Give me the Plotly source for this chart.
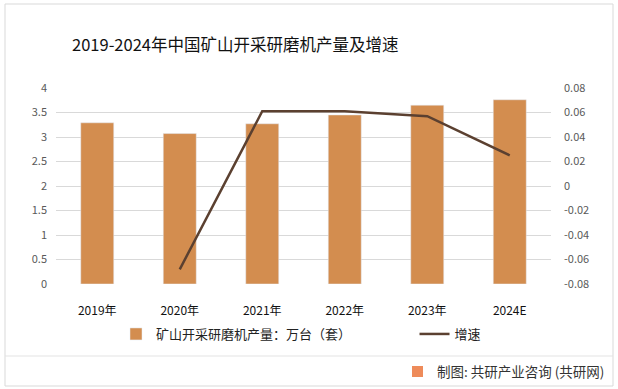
import plotly.graph_objects as go

categories = ["2019年", "2020年", "2021年", "2022年", "2023年", "2024E"]
production = [3.29, 3.07, 3.27, 3.45, 3.65, 3.76]
growth = [None, -0.068, 0.061, 0.061, 0.057, 0.025]
left_ticks = [0, 0.5, 1, 1.5, 2, 2.5, 3, 3.5, 4]
right_ticks = [-0.08, -0.06, -0.04, -0.02, 0, 0.02, 0.04, 0.06, 0.08]
right_labels = ["-0.08", "-0.06", "-0.04", "-0.02", "0", "0.02", "0.04", "0.06", "0.08"]
series_names = ["矿山开采研磨机产量：万台（套）", "增速"]

FONT = "Noto Sans CJK SC"
W, H = 618, 389
L, R, T, B = 56, 551, 88, 284


def px(x):
    return (x - L) / (R - L)


def py(y):
    return (B - y) / (B - T)


fig = go.Figure()
fig.add_trace(go.Bar(
    x=categories, y=production, name=series_names[0] + "\u3000" * 5,
    marker=dict(color="#D38D4F"), width=0.4, yaxis="y"))
fig.add_trace(go.Scatter(
    x=categories, y=growth, name=series_names[1], mode="lines",
    line=dict(color="#5B4030", width=2.5), yaxis="y2", connectgaps=False))

fig.update_layout(
    width=W, height=H,
    margin=dict(l=L, r=W - R, t=T, b=H - B, autoexpand=False),
    paper_bgcolor="white", plot_bgcolor="white",
    font=dict(family=FONT, color="#595959", size=11),
    showlegend=True,
    legend=dict(orientation="h", x=px(116), xanchor="left", y=py(334), yanchor="middle",
                font=dict(size=13, color="#222222"), traceorder="normal",
                itemwidth=30),
    title=dict(text="2019-2024年中国矿山开采研磨机产量及增速", x=72 / W, xanchor="left",
               y=1 - 45 / H, yanchor="middle",
               font=dict(size=16.5, color="#111111", family=FONT)),
    xaxis=dict(tickfont=dict(size=12, color="#111111"), showgrid=False,
               showline=False, ticks="", ticklabelstandoff=18, automargin=False),
    yaxis=dict(range=[0, 4], tickvals=left_ticks, showgrid=True, gridcolor="#D9D9D9",
               gridwidth=1, zeroline=False, showline=False, ticks="",
               tickfont=dict(size=11, color="#595959"), ticklabelstandoff=8,
               automargin=False),
    yaxis2=dict(range=[-0.08, 0.08], tickvals=right_ticks, ticktext=right_labels,
                overlaying="y", side="right",
                showgrid=False, zeroline=False, showline=False, ticks="",
                tickfont=dict(size=11, color="#595959"), ticklabelstandoff=12,
                automargin=False),
)

# outer frame and footer divider
fig.add_shape(type="rect", xref="paper", yref="paper",
              x0=px(5), x1=px(613), y0=py(386), y1=py(4),
              line=dict(color="#D9D9D9", width=1))
fig.add_shape(type="line", xref="paper", yref="paper",
              x0=px(5), x1=px(613), y0=py(356), y1=py(356),
              line=dict(color="#E3E3E3", width=1))
# footer logo and text
fig.add_shape(type="rect", xref="paper", yref="paper",
              x0=px(412), x1=px(423), y0=py(377), y1=py(366),
              line=dict(width=0), fillcolor="#EE8B5A")
fig.add_annotation(text="制图: 共研产业咨询 (共研网)", xref="paper", yref="paper",
                   x=px(606), xanchor="right", y=py(371), yanchor="middle",
                   showarrow=False, font=dict(size=13.5, color="#333333", family=FONT))

fig.write_html("out.html", config={"displayModeBar": False},
               post_script="document.body.style.margin='0';document.body.style.overflow='hidden';")
